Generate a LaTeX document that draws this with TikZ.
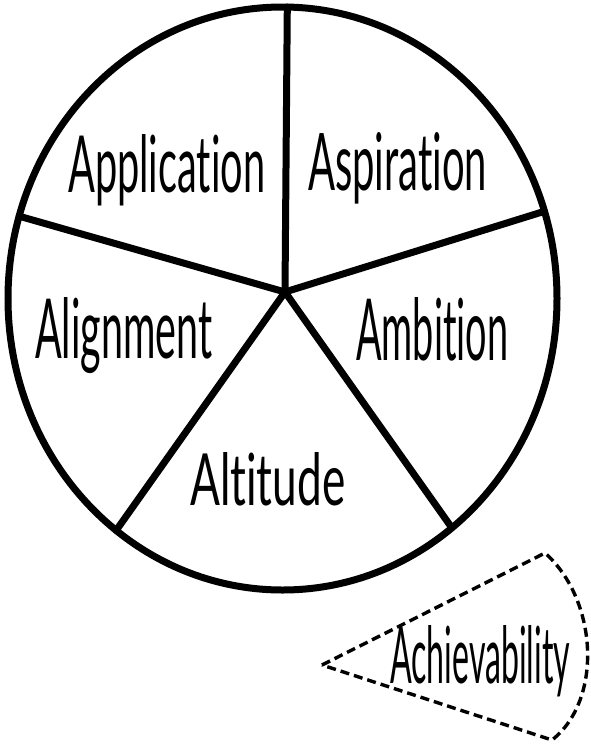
\documentclass[tikz,border=0pt]{standalone}
\usepackage{fontspec}
\usepackage{graphicx}
\newfontfamily\handfont[Ligatures=NoCommon]{Lato}
% word set to a fixed width and letter height
\newcommand{\hw}[3]{\resizebox{#1pt}{#2pt}{\handfont #3}}
\begin{document}
\begin{tikzpicture}[x=1pt,y=-1pt,
  rim/.style={line width=7pt, black},
  spoke/.style={line width=7pt, black, line cap=round},
  word/.style={inner sep=0pt, anchor=base west},
  ghost/.style={line width=3.4pt, black, dash pattern=on 9pt off 5pt, line join=miter}]
\useasboundingbox (0,0) rectangle (591,745);
\fill[white] (0,0) rectangle (591,745);

% the wheel
\draw[rim] (282.5,298.5) ellipse [x radius=274.5pt, y radius=291.5pt];
\coordinate (hub) at (285,292);
\coordinate (top) at (287.3,7);
\coordinate (right) at (544.4,211.3);
\coordinate (lowright) at (451.9,527.9);
\coordinate (lowleft) at (116.2,530.4);
\coordinate (left) at (19.2,216.2);
\foreach \e in {top,right,lowright,lowleft,left}
  \draw[spoke] (hub) -- (\e);

% segment labels
\node[word] (application) at (68,192) {\hw{197}{58}{Application}};
\node[word] (aspiration) at (308,190) {\hw{179}{58}{Aspiration}};
\node[word] (alignment) at (35,358) {\hw{177}{61}{Alignment}};
\node[word] (ambition) at (356,360) {\hw{152}{63}{Ambition}};
\node[word] (altitude) at (190,505) {\hw{155}{53}{Altitude}};

% the detached dashed slice
\coordinate (apex) at (322,665);
\coordinate (stop) at (545,553);
\coordinate (sbot) at (552,740);
\draw[ghost] (apex) -- (stop) .. controls (598,600) and (603,700) .. (sbot) -- cycle;
\node[word] (achievability) at (390,683) {\hw{180}{58}{Achievability}};
\end{tikzpicture}
\end{document}
